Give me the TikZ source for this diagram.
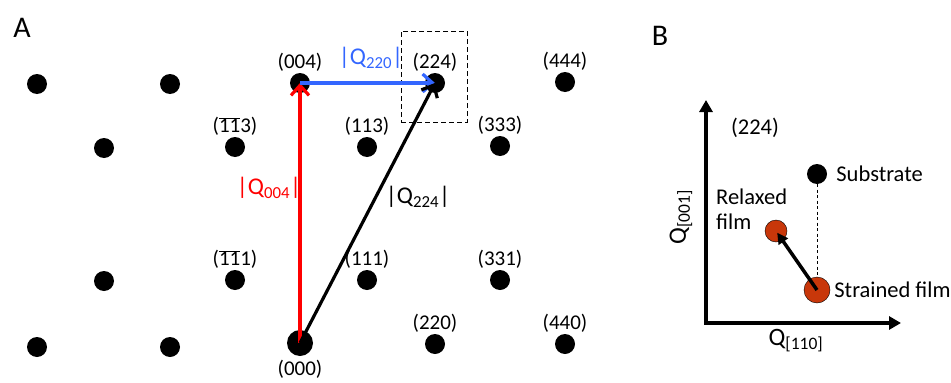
\documentclass[tikz,border=0pt]{standalone}
\usepackage{fontspec}
\setmainfont{Carlito}
\usepackage{xcolor}
\usetikzlibrary{arrows.meta,positioning}

\definecolor{qred}{RGB}{255,0,0}
\definecolor{qblue}{RGB}{51,102,255}
\definecolor{filmred}{RGB}{200,55,10}
\newcommand{\barnum}[1]{\ensuremath{\overline{\mbox{#1}}}}

\begin{document}
\begin{tikzpicture}[
    x=1pt, y=-1pt,
    spot/.style={circle, fill=black, inner sep=0pt, minimum size=20pt},
    hkl/.style={inner sep=0pt, label distance=1pt, font=\fontsize{21}{24}\selectfont},
    qlab/.style={inner sep=0pt, font=\fontsize{24}{28}\selectfont},
    blab/.style={inner sep=0pt, font=\fontsize{22.5}{25}\selectfont},
    film/.style={circle, draw=black, thin, fill=filmred, inner sep=0pt},
    qarrow/.style={line width=3.2pt, -{Straight Barb[length=10pt,width=18pt]}},
    axis/.style={line width=4.5pt, {Triangle[length=12pt,width=13pt]}-{Triangle[length=12pt,width=13pt]}}
]
\useasboundingbox (0,0) rectangle (951,383);

% panel A: reciprocal lattice
\node[font=\fontsize{30}{34}\selectfont] (lblA) at (22,28) {A};
\node[spot] (r1a) at (37,84) {};
\node[spot] (r1b) at (170,84) {};
\node[spot, label={[hkl]above:(004)}] (d004) at (300,83) {};
\node[spot, label={[hkl]above:(224)}] (d224) at (435,83) {};
\node[spot, label={[hkl]above:(444)}] (d444) at (565,82) {};
\node[spot] (r2a) at (104,148) {};
\node[spot, label={[hkl]above:(\barnum{1}\barnum{1}3)}] (dm113) at (235,147) {};
\node[spot, label={[hkl]above:(113)}] (d113) at (367,147) {};
\node[spot, label={[hkl]above:(333)}] (d333) at (500,146) {};
\node[spot] (r3a) at (104,281) {};
\node[spot, label={[hkl]above:(\barnum{1}\barnum{1}1)}] (dm111) at (235,280) {};
\node[spot, label={[hkl]above:(111)}] (d111) at (367,280) {};
\node[spot, label={[hkl]above:(331)}] (d331) at (500,280) {};
\node[spot] (r4a) at (37,347) {};
\node[spot] (r4b) at (170,347) {};
\node[spot, minimum size=26pt, label={[hkl, label distance=4pt]below:(000)}] (d000) at (300,343) {};
\node[spot, label={[hkl]above:(220)}] (d220) at (435,344) {};
\node[spot, label={[hkl]above:(440)}] (d440) at (565,344) {};

\node[draw, dashed, line width=1pt, dash pattern=on 5pt off 3pt,
      minimum width=66pt, minimum height=91pt, inner sep=0pt] (zoombox) at (434,76.5) {};

\draw[qarrow, qred] (d000.center) -- (d004.center);
\draw[qarrow, qblue] (d004.center) -- (d224.center);
\draw[qarrow, black] (d000.center) -- (d224.center);

\node[qlab, text=qred] (q004) at (269,188) {|Q\textsubscript{004}|};
\node[qlab, text=qblue] (q220) at (371,58) {|Q\textsubscript{220}|};
\node[qlab] (q224) at (418,197) {|Q\textsubscript{224}|};

% panel B: reciprocal space map around (224)
\node[font=\fontsize{30}{34}\selectfont] (lblB) at (660,36) {B};
\coordinate (orig) at (706,323);
\coordinate (ytip) at (706,100);
\coordinate (xtip) at (901,323);
\draw[axis] (ytip) -- (orig) -- (xtip);
\node[blab] (b224) at (755,128) {(224)};

\node[spot, label={[blab, label distance=9pt]right:Substrate}] (subst) at (817,174) {};
\node[film, minimum size=26pt, label={[blab, label distance=4pt]right:Strained film}] (strained) at (817,290) {};
\node[film, minimum size=22pt] (relaxed) at (776,231) {};
\node[blab, align=left, anchor=west] (relaxtxt) at (716,209) {Relaxed\\film};

\draw[line width=0.8pt, dashed, dash pattern=on 3pt off 2.5pt] (subst) -- (strained);
\draw[line width=3.5pt, -{Triangle[length=11pt,width=11pt]}, shorten >=2pt] (strained.center) -- (relaxed.center);

\node[font=\fontsize{25}{28}\selectfont, rotate=90] (qy) at (681,217) {Q\textsubscript{[001]}};
\node[font=\fontsize{25}{28}\selectfont] (qx) at (796,341) {Q\textsubscript{[110]}};
\end{tikzpicture}
\end{document}
